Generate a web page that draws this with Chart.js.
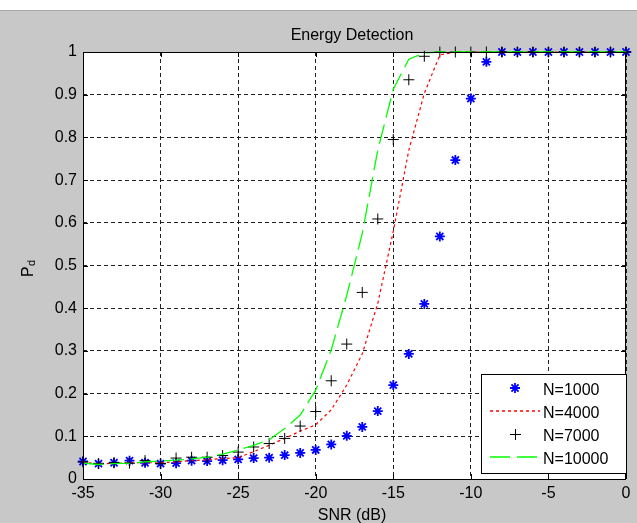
<!DOCTYPE html>
<html lang="en">
<head>
<meta charset="UTF-8">
<title>Energy Detection</title>
<script src="https://cdn.jsdelivr.net/npm/chart.js"></script>
<style>
  body { margin: 0; background: #c8c8c8; }
  #wrap { width: 637px; height: 523px; }
</style>
</head>
<body>
<div id="wrap"><canvas id="pdChart" width="637" height="523"></canvas></div>
<script>
// SNR in dB, one sample per integer
const snr = [-35, -34, -33, -32, -31, -30, -29, -28, -27, -26, -25, -24, -23, -22, -21, -20, -19, -18,
             -17, -16, -15, -14, -13, -12, -11, -10, -9, -8, -7, -6, -5, -4, -3, -2, -1, 0];

// probability of detection for each sample count
const pd1000 = [0.041, 0.036, 0.038, 0.043, 0.038, 0.036, 0.037, 0.043, 0.042, 0.044, 0.046, 0.049,
                0.050, 0.056, 0.061, 0.068, 0.081, 0.101, 0.122, 0.159, 0.220, 0.293, 0.410, 0.568,
                0.747, 0.891, 0.977, 1, 1, 1, 1, 1, 1, 1, 1, 1];
const pd4000 = [0.040, 0.035, 0.037, 0.038, 0.038, 0.038, 0.040, 0.043, 0.045, 0.048, 0.050, 0.064,
                0.079, 0.095, 0.112, 0.127, 0.162, 0.220, 0.293, 0.411, 0.580, 0.770, 0.903, 0.993,
                1, 1, 1, 1, 1, 1, 1, 1, 1, 1, 1, 1];
const pd7000 = [0.040, 0.036, 0.038, 0.037, 0.043, 0.036, 0.049, 0.051, 0.051, 0.055, 0.063, 0.075,
                0.083, 0.095, 0.124, 0.158, 0.230, 0.316, 0.437, 0.609, 0.795, 0.935, 0.990, 1,
                1, 1, 1, 1, 1, 1, 1, 1, 1, 1, 1, 1];
const pd10000 = [0.037, 0.034, 0.036, 0.037, 0.040, 0.042, 0.044, 0.047, 0.051, 0.058, 0.068, 0.079,
                 0.092, 0.118, 0.150, 0.208, 0.302, 0.430, 0.575, 0.770, 0.913, 0.983, 0.998, 1,
                 1, 1, 1, 1, 1, 1, 1, 1, 1, 1, 1, 1];

const xTicks = [-35, -30, -25, -20, -15, -10, -5, 0];
const yTicks = [0, 0.1, 0.2, 0.3, 0.4, 0.5, 0.6, 0.7, 0.8, 0.9, 1];
const seriesNames = ['N=1000', 'N=4000', 'N=7000', 'N=10000'];

const FONT = "'Liberation Sans', Arial, sans-serif";

function toPts(arr) {
    return snr.map((x, i) => ({ x: x, y: arr[i] }));
}

function drawStar(c, x, y, r) {
    const d = r * Math.SQRT1_2;
    c.beginPath();
    c.moveTo(x - r, y); c.lineTo(x + r, y);
    c.moveTo(x, y - r); c.lineTo(x, y + r);
    c.moveTo(x - d, y - d); c.lineTo(x + d, y + d);
    c.moveTo(x - d, y + d); c.lineTo(x + d, y - d);
    c.stroke();
}

function drawPlus(c, x, y, r) {
    c.beginPath();
    c.moveTo(x - r, y); c.lineTo(x + r, y);
    c.moveTo(x, y - r); c.lineTo(x, y + r);
    c.stroke();
}

function legendLine(c, y, color, dash, width) {
    c.save();
    c.strokeStyle = color;
    c.lineWidth = width;
    c.setLineDash(dash);
    c.beginPath();
    c.moveTo(490, y);
    c.lineTo(540, y);
    c.stroke();
    c.restore();
}

const figurePlugin = {
    id: 'figure',
    beforeDraw(chart) {
        const c = chart.ctx, a = chart.chartArea;
        c.save();
        c.fillStyle = '#c8c8c8';
        c.fillRect(0, 0, chart.width, chart.height);
        c.fillStyle = '#ffffff';
        c.fillRect(0, 0, chart.width, 10);
        c.fillStyle = '#a9a9a9';
        c.fillRect(0, 10, chart.width, 1);
        c.fillStyle = '#ffffff';
        c.fillRect(a.left, a.top, a.right - a.left, a.bottom - a.top);
        c.restore();
    },
    afterDraw(chart) {
        const c = chart.ctx, a = chart.chartArea;
        const xs = chart.scales.x, ys = chart.scales.y;
        c.save();

        // axes box and inward ticks
        c.strokeStyle = '#000';
        c.lineWidth = 1;
        c.setLineDash([]);
        c.strokeRect(a.left + 0.5, a.top + 0.5, a.right - a.left - 1, a.bottom - a.top);
        c.beginPath();
        xTicks.forEach(v => {
            const px = Math.round(xs.getPixelForValue(v)) + 0.5;
            c.moveTo(px, a.bottom); c.lineTo(px, a.bottom - 5);
            c.moveTo(px, a.top); c.lineTo(px, a.top + 5);
        });
        yTicks.forEach(v => {
            const py = Math.round(ys.getPixelForValue(v)) + 0.5;
            c.moveTo(a.left, py); c.lineTo(a.left + 5, py);
            c.moveTo(a.right, py); c.lineTo(a.right - 5, py);
        });
        c.stroke();

        // title and axis labels
        c.fillStyle = '#000';
        c.font = '16px ' + FONT;
        c.textAlign = 'center';
        c.textBaseline = 'alphabetic';
        c.fillText('Energy Detection', 352, 39.5);
        c.fillText('SNR (dB)', 352, 519.5);

        c.save();
        c.translate(33, 277);
        c.rotate(-Math.PI / 2);
        c.textAlign = 'left';
        c.fillText('P', 0, 0);
        c.font = '11px ' + FONT;
        c.fillText('d', 11, 2);
        c.restore();

        // legend box
        const lx = 481, ly = 374, lw = 145, lh = 99;
        c.fillStyle = '#ffffff';
        c.fillRect(lx, ly, lw, lh);
        c.strokeStyle = '#000';
        c.lineWidth = 1;
        c.strokeRect(lx + 0.5, ly + 0.5, lw, lh);

        const rows = [388, 411, 434, 457];

        c.strokeStyle = '#0000ff';
        c.lineWidth = 1.8;
        drawStar(c, 515, rows[0], 5);

        legendLine(c, rows[1], '#ff0000', [3, 3], 1.5);

        c.strokeStyle = '#000';
        c.lineWidth = 1;
        drawPlus(c, 515.5, rows[2] + 0.5, 5.5);

        legendLine(c, rows[3], '#00ff00', [20, 7], 1.5);

        c.fillStyle = '#000';
        c.font = '16px ' + FONT;
        c.textAlign = 'left';
        c.textBaseline = 'alphabetic';
        seriesNames.forEach((name, i) => c.fillText(name, 543, rows[i] + 6.5));

        c.restore();
    }
};

const axisFont = { family: FONT, size: 16 };

const ctx = document.getElementById('pdChart').getContext('2d');
const pdChart = new Chart(ctx, {
    type: 'line',
    data: {
        datasets: [
            {
                label: seriesNames[0],
                data: toPts(pd1000),
                showLine: false,
                pointStyle: 'star',
                pointRadius: 5,
                pointBorderWidth: 1.8,
                borderColor: '#0000ff',
                backgroundColor: '#0000ff',
                clip: false,
                order: 4
            },
            {
                label: seriesNames[1],
                data: toPts(pd4000),
                borderColor: '#ff0000',
                borderWidth: 1.2,
                borderDash: [3, 3],
                pointRadius: 0,
                tension: 0,
                fill: false,
                clip: false,
                order: 3
            },
            {
                label: seriesNames[2],
                data: toPts(pd7000),
                showLine: false,
                pointStyle: 'cross',
                pointRadius: 5.5,
                pointBorderWidth: 1,
                borderColor: '#000000',
                backgroundColor: '#000000',
                clip: false,
                order: 2
            },
            {
                label: seriesNames[3],
                data: toPts(pd10000),
                borderColor: '#00ff00',
                borderWidth: 1.3,
                borderDash: [20, 7],
                pointRadius: 0,
                tension: 0,
                fill: false,
                clip: false,
                order: 1
            }
        ]
    },
    options: {
        responsive: false,
        animation: false,
        layout: { padding: { top: 52, right: 11, bottom: 0, left: 0 } },
        plugins: {
            legend: { display: false },
            title: { display: false },
            tooltip: { enabled: false }
        },
        scales: {
            x: {
                type: 'linear',
                min: -35,
                max: 0,
                afterBuildTicks: s => { s.ticks = xTicks.map(v => ({ value: v })); },
                afterFit: s => { s.height = 44; },
                grid: { color: '#202020', lineWidth: 1, drawTicks: false },
                border: { display: false, dash: [4, 3] },
                ticks: {
                    color: '#000',
                    font: axisFont,
                    padding: 5,
                    maxRotation: 0,
                    autoSkip: false,
                    callback: v => String(v)
                }
            },
            y: {
                type: 'linear',
                min: 0,
                max: 1,
                afterBuildTicks: s => { s.ticks = yTicks.map(v => ({ value: v })); },
                afterFit: s => { s.width = 83; },
                grid: { color: '#202020', lineWidth: 1, drawTicks: false },
                border: { display: false, dash: [4, 3] },
                ticks: {
                    color: '#000',
                    font: axisFont,
                    padding: 6,
                    autoSkip: false,
                    callback: v => String(v)
                }
            }
        }
    },
    plugins: [figurePlugin]
});
</script>
</body>
</html>
